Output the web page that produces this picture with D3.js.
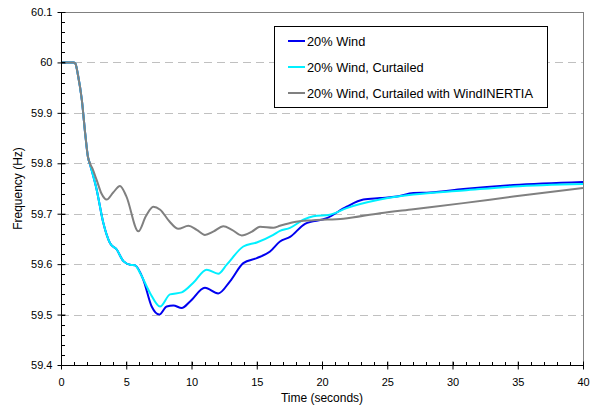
<!DOCTYPE html>
<html><head><meta charset="utf-8">
<script src="https://cdn.jsdelivr.net/npm/d3@7"></script>
<style>body{margin:0;background:#fff}svg{display:block;font-family:"Liberation Sans",Arial,sans-serif}</style>
</head><body><svg id="c" width="592" height="409"></svg>
<script>
const xTicks = [0,5,10,15,20,25,30,35,40];
const yTicks = [59.4,59.5,59.6,59.7,59.8,59.9,60,60.1];
const seriesNames = ["20% Wind","20% Wind, Curtailed","20% Wind, Curtailed with WindINERTIA"];
const seriesColors = ["#0000f0","#00f0ff","#808080"];

const windT = [0,0.95,1.1,1.3,1.6,1.85,2.07,2.22,2.73,3.24,3.75,4.27,4.78,5.29,5.67,6.31,6.95,7.53,8.10,8.61,9.25,9.89,11.03,12.05,12.95,13.97,15.0,16.02,16.78,17.55,18.7,20.36,21.89,23.17,24.44,25.72,27.0,28.28,30.83,34.66,40];
const windF = [60,60,59.998,59.975,59.925,59.86,59.812,59.798,59.748,59.682,59.642,59.629,59.606,59.599,59.598,59.569,59.516,59.500,59.516,59.518,59.513,59.526,59.553,59.542,59.566,59.602,59.612,59.625,59.645,59.654,59.680,59.691,59.714,59.728,59.731,59.734,59.741,59.742,59.749,59.757,59.763];

const curtT = [0,0.95,1.1,1.3,1.6,1.85,2.07,2.22,2.73,3.24,3.75,4.27,4.78,5.29,5.67,6.05,6.82,7.59,8.35,9.25,10.14,11.16,12.05,12.70,13.97,15.0,16.27,16.78,17.55,18.57,19.34,20.61,21.89,24.44,27.0,30.83,34.66,40];
const curtF = [60,60,59.998,59.975,59.925,59.86,59.812,59.798,59.748,59.682,59.642,59.629,59.606,59.599,59.598,59.583,59.543,59.516,59.540,59.544,59.563,59.589,59.581,59.599,59.635,59.643,59.658,59.666,59.672,59.688,59.695,59.698,59.711,59.728,59.738,59.746,59.754,59.759];

const inertT = [0,0.95,1.1,1.3,1.6,1.85,2.07,2.22,2.45,2.73,3.1,3.5,4.0,4.52,5.0,5.93,6.5,7.07,7.6,8.3,8.99,9.76,10.4,11.03,11.7,12.44,13.1,13.85,14.6,15.25,16.27,16.78,17.8,19.34,21.63,24.44,27.0,30.83,34.66,40];
const inertF = [60,60,59.998,59.975,59.925,59.86,59.812,59.800,59.787,59.767,59.740,59.728,59.742,59.755,59.735,59.665,59.695,59.714,59.708,59.685,59.670,59.676,59.668,59.658,59.665,59.675,59.668,59.657,59.664,59.674,59.672,59.676,59.683,59.687,59.690,59.701,59.709,59.721,59.734,59.751];

const svg = d3.select("#c");
const L = 61, R = 583, T = 12, B = 365;
const x = d3.scaleLinear().domain([0,40]).range([L,R]);
const y = d3.scaleLinear().domain([59.4,60.1]).range([B,T]);

// gridlines
svg.append("g").selectAll("line").data(yTicks.filter(v=>v>59.45 && v<60.05)).join("line")
  .attr("x1",L).attr("x2",R).attr("y1",d=>Math.round(y(d))+0.5).attr("y2",d=>Math.round(y(d))+0.5)
  .attr("stroke","#c0c0c0").attr("stroke-width",1).attr("stroke-dasharray","8,5");
// frame top & right
svg.append("line").attr("x1",L).attr("x2",R).attr("y1",T+0.5).attr("y2",T+0.5).attr("stroke","#808080");
svg.append("line").attr("x1",R+0.5).attr("x2",R+0.5).attr("y1",T).attr("y2",B).attr("stroke","#808080");

// series
const series = [[windT,windF],[curtT,curtF],[inertT,inertF]];
const line = d3.line().x(d=>x(d[0])).y(d=>y(d[1])).curve(d3.curveMonotoneX);
series.forEach((s,i)=>{
  const pts = s[0].map((t,j)=>[t,s[1][j]]);
  svg.append("path").datum(pts).attr("d",line).attr("fill","none")
    .attr("stroke",seriesColors[i]).attr("stroke-width",2).attr("stroke-linejoin","round");
});

// axes
const yAxis = d3.axisLeft(y).tickValues(yTicks).tickFormat(d=>d3.format("~g")(d)).tickSize(4).tickPadding(5);
const gy = svg.append("g").attr("transform",`translate(${L+0.5},0)`).call(yAxis);
const yMinor = d3.range(59.4,60.1001,0.02);
svg.append("g").selectAll("line").data(yMinor).join("line")
  .attr("x1",L).attr("x2",L+4).attr("y1",d=>Math.round(y(d))+0.5).attr("y2",d=>Math.round(y(d))+0.5).attr("stroke","#000");
gy.selectAll(".tick line").attr("x2",-4).attr("x1",4);

const xAxis = d3.axisBottom(x).tickValues(xTicks).tickSize(4).tickPadding(9);
const gx = svg.append("g").attr("transform",`translate(0,${B+0.5})`).call(xAxis);
gx.selectAll(".tick line").attr("y1",-4).attr("y2",4);
const xMinor = d3.range(0,41,1);
svg.append("g").selectAll("line").data(xMinor).join("line")
  .attr("x1",d=>Math.round(x(d))+0.5).attr("x2",d=>Math.round(x(d))+0.5).attr("y1",B-3).attr("y2",B).attr("stroke","#000");
[gx,gy].forEach(g=>{g.selectAll("text").attr("font-size",11).attr("fill","#000").attr("font-family","Liberation Sans, Arial, sans-serif");g.select(".domain").attr("stroke","#000");g.selectAll(".tick line").attr("stroke","#000");});
gx.select(".domain").attr("d",`M${L},0H${R}`);
gy.select(".domain").attr("d",`M0,${B}V${T}`);

// axis titles
svg.append("text").attr("x",(L+R)/2).attr("y",402).attr("text-anchor","middle").attr("font-size",12).text("Time (seconds)");
svg.append("text").attr("transform",`translate(22,${(T+B)/2}) rotate(-90)`).attr("text-anchor","middle").attr("font-size",12).text("Frequency (Hz)");

// legend
const lg = svg.append("g");
lg.append("rect").attr("x",274.5).attr("y",26.5).attr("width",273).attr("height",81).attr("fill","#fff").attr("stroke","#000");
seriesNames.forEach((n,i)=>{
  const yy = 41 + i*26;
  lg.append("line").attr("x1",288).attr("x2",305).attr("y1",yy).attr("y2",yy).attr("stroke",seriesColors[i]).attr("stroke-width",2);
  lg.append("text").attr("x",307).attr("y",yy+4.5).attr("font-size",12.8).text(n);
});
</script></body></html>
